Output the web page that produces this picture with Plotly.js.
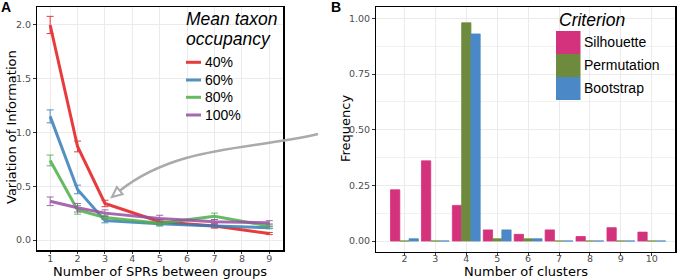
<!DOCTYPE html>
<html><head><meta charset="utf-8">
<script src="https://cdn.plot.ly/plotly-3.0.1.min.js"></script>
<style>html,body{margin:0;padding:0;background:#fff}#chart{width:680px;height:279px}</style>
</head><body><div id="chart"></div>
<script>
// ---- Panel A data ----
const sprSteps = [1, 2, 3, 5, 7, 9];
const occupancyNames = ["40%", "60%", "80%", "100%"];
const vi40 = [2.00, 0.87, 0.34, 0.17, 0.13, 0.06];
const vi60 = [1.15, 0.47, 0.18, 0.15, 0.13, 0.115];
const vi80 = [0.74, 0.28, 0.21, 0.155, 0.22, 0.13];
const vi100 = [0.36, 0.30, 0.25, 0.20, 0.17, 0.16];
const err40 = [0.08, 0.05, 0.03, 0.02, 0.02, 0.01];
const err60 = [0.06, 0.04, 0.02, 0.02, 0.01, 0.01];
const err80 = [0.05, 0.04, 0.02, 0.02, 0.03, 0.02];
const err100 = [0.04, 0.04, 0.03, 0.03, 0.02, 0.02];
const xTicksA = [1, 2, 3, 4, 5, 6, 7, 8, 9];

// ---- Panel B data ----
const clusters = [2, 3, 4, 5, 6, 7, 8, 9, 10];
const criterionNames = ["Silhouette", "Permutation", "Bootstrap"];
const silhouette = [0.23, 0.36, 0.16, 0.05, 0.03, 0.05, 0.02, 0.06, 0.04];
const permutation = [0.00, 0.00, 0.98, 0.01, 0.01, 0.00, 0.00, 0.00, 0.00];
const bootstrap = [0.01, 0.00, 0.93, 0.05, 0.01, 0.00, 0.00, 0.00, 0.00];

const W = 680, H = 279;
const PX = p => p / W, PY = p => 1 - p / H;

const lineColors = ["#e41a1c", "#377eb8", "#4daf4a", "#984ea3"];
const barColors = ["#d4327c", "#6e8b3d", "#4a88c7"];
const viSeries = [vi40, vi60, vi80, vi100];
const errSeries = [err40, err60, err80, err100];

const traces = [];
viSeries.forEach((ys, i) => {
  traces.push({
    type: "scatter", mode: "lines", x: sprSteps, y: ys, name: occupancyNames[i],
    xaxis: "x", yaxis: "y", showlegend: false, opacity: 0.85,
    line: {color: lineColors[i], width: 3},
    error_y: {type: "data", array: errSeries[i], visible: true, color: lineColors[i], thickness: 1, width: 3.5}
  });
});
const barSeries = [silhouette, permutation, bootstrap];
barSeries.forEach((ys, i) => {
  traces.push({
    type: "bar", x: clusters, y: ys, name: criterionNames[i], xaxis: "x2", yaxis: "y2",
    showlegend: false, marker: {color: barColors[i], line: {color: barColors[i], width: 0.8}}
  });
});

const tickFont = {family: "DejaVu Sans", size: 9.5, color: "#4d4d4d"};
const titleFont = {family: "DejaVu Sans", size: 13, color: "#000"};
const axisCommon = {
  showline: true, linecolor: "#000", linewidth: 1.5, mirror: true,
  ticks: "outside", ticklen: 2.5, tickcolor: "#333", tickwidth: 1,
  gridcolor: "#ebebeb", gridwidth: 1, zeroline: false, tickfont: tickFont, fixedrange: true
};

const shapes = [];
const annotations = [];
// Legend A
annotations.push({xref: "paper", yref: "paper", x: PX(184), y: PY(19.5), xanchor: "left", yanchor: "middle",
  text: "<i>Mean taxon</i>", showarrow: false, font: {family: "Liberation Sans", size: 17.5, color: "#000"}});
annotations.push({xref: "paper", yref: "paper", x: PX(184), y: PY(39.5), xanchor: "left", yanchor: "middle",
  text: "<i>occupancy</i>", showarrow: false, font: {family: "Liberation Sans", size: 17.5, color: "#000"}});
const rowsA = [62.3, 80, 97.3, 115];
occupancyNames.forEach((nm, i) => {
  shapes.push({type: "line", xref: "paper", yref: "paper", x0: PX(186), x1: PX(201), y0: PY(rowsA[i]), y1: PY(rowsA[i]),
    line: {color: lineColors[i], width: 3}, opacity: 0.85});
  annotations.push({xref: "paper", yref: "paper", x: PX(202.5), y: PY(rowsA[i]), xanchor: "left", yanchor: "middle",
    text: nm, showarrow: false, font: {family: "Liberation Sans", size: 14, color: "#000"}});
});
// Legend B
annotations.push({xref: "paper", yref: "paper", x: PX(557), y: PY(20.5), xanchor: "left", yanchor: "middle",
  text: "<i>Criterion</i>", showarrow: false, font: {family: "Liberation Sans", size: 17.5, color: "#000"}});
const boxTops = [31, 54, 77];
criterionNames.forEach((nm, i) => {
  shapes.push({type: "rect", xref: "paper", yref: "paper", x0: PX(556), x1: PX(580.5), y0: PY(boxTops[i]), y1: PY(boxTops[i] + 23),
    fillcolor: barColors[i], line: {width: 0}});
  annotations.push({xref: "paper", yref: "paper", x: PX(582), y: PY(boxTops[i] + 11.5), xanchor: "left", yanchor: "middle",
    text: nm, showarrow: false, font: {family: "Liberation Sans", size: 14, color: "#000"}});
});
// Axis titles
annotations.push({xref: "paper", yref: "paper", x: PX(160), y: PY(271.5), text: "Number of SPRs between groups",
  showarrow: false, font: titleFont, xanchor: "center", yanchor: "middle", borderpad: 0});
annotations.push({xref: "paper", yref: "paper", x: PX(12), y: PY(127), text: "Variation of Information",
  showarrow: false, font: titleFont, textangle: -90, xanchor: "center", yanchor: "middle"});
annotations.push({xref: "paper", yref: "paper", x: PX(526), y: PY(271.5), text: "Number of clusters",
  showarrow: false, font: titleFont, xanchor: "center", yanchor: "middle", borderpad: 0});
annotations.push({xref: "paper", yref: "paper", x: PX(345), y: PY(129), text: "Frequency",
  showarrow: false, font: titleFont, textangle: -90, xanchor: "center", yanchor: "middle"});
// Panel letters
annotations.push({xref: "paper", yref: "paper", x: PX(5.5), y: PY(7.5), text: "<b>A</b>",
  showarrow: false, font: {family: "Liberation Sans", size: 14, color: "#000"}, xanchor: "center", yanchor: "middle"});
annotations.push({xref: "paper", yref: "paper", x: PX(336), y: PY(7.5), text: "<b>B</b>",
  showarrow: false, font: {family: "Liberation Sans", size: 14, color: "#000"}, xanchor: "center", yanchor: "middle"});

// Curved arrow (pixel geometry converted to paper coordinates)
const P = (x, y) => PX(x).toFixed(5) + "," + PY(y).toFixed(5);
const tip = [112, 197];
const dir = [-0.772, 0.635];
const base = [tip[0] - 10 * dir[0], tip[1] - 10 * dir[1]];
const perp = [0.635 * 4.5, 0.772 * 4.5];
shapes.push({type: "path", xref: "paper", yref: "paper", layer: "above",
  path: "M" + P(318, 134) + " C" + P(250, 150) + " " + P(178, 145) + " " + P(base[0], base[1]),
  line: {color: "#aaaaaa", width: 2.5}});
shapes.push({type: "path", xref: "paper", yref: "paper", layer: "above",
  path: "M" + P(tip[0], tip[1]) + " L" + P(base[0] + perp[0], base[1] + perp[1]) + " L" + P(base[0] - perp[0], base[1] - perp[1]) + " Z",
  fillcolor: "#ffffff", line: {color: "#aaaaaa", width: 2}});

const layout = {
  width: W, height: H, margin: {l: 0, r: 0, t: 0, b: 0},
  paper_bgcolor: "#fff", plot_bgcolor: "#fff", showlegend: false,
  barmode: "group", bargap: 0.1, bargroupgap: 0,
  xaxis: Object.assign({}, axisCommon, {domain: [PX(37), PX(283)], range: [0.52, 9.5], tickvals: xTicksA, ticktext: xTicksA.map(String), anchor: "y", ticklabelstandoff: -3}),
  yaxis: Object.assign({}, axisCommon, {domain: [PY(250), PY(7)], range: [-0.093, 2.167], tickvals: [0, 0.5, 1, 1.5, 2], tickformat: ".1f", anchor: "x"}),
  xaxis2: Object.assign({}, axisCommon, {domain: [PX(376), PX(675)], range: [1.08, 10.75], tickvals: clusters, ticktext: clusters.map(String), anchor: "y2", ticklabelstandoff: -5}),
  yaxis2: Object.assign({}, axisCommon, {domain: [PY(251.7), PY(7)], range: [-0.048, 1.051], tickvals: [0, 0.25, 0.5, 0.75, 1], tickformat: ".2f", anchor: "x2",
    minor: {tickvals: [0.125, 0.375, 0.625, 0.875], showgrid: true, gridcolor: "#f2f2f2", ticks: ""}}),
  shapes: shapes, annotations: annotations
};
Plotly.newPlot("chart", traces, layout, {staticPlot: true, displayModeBar: false});
</script></body></html>
